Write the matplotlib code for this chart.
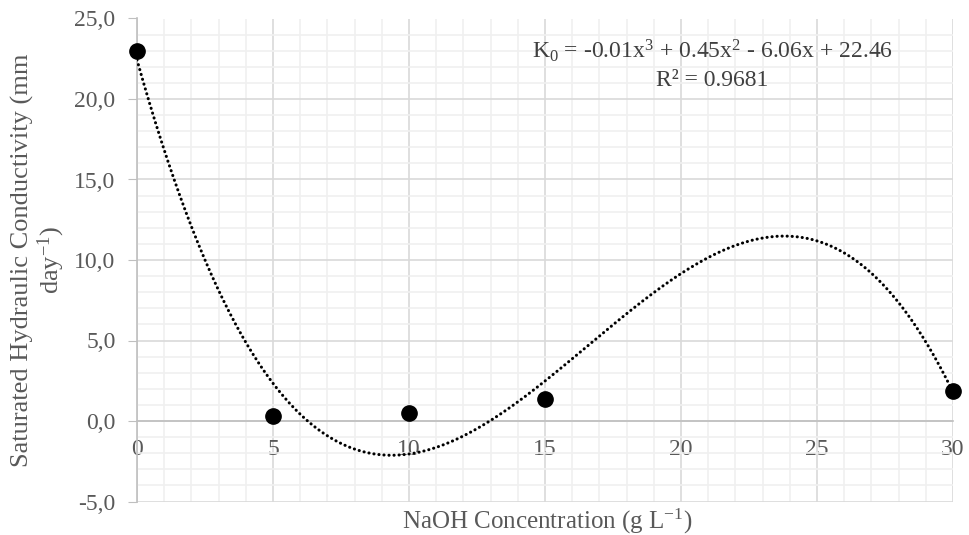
import numpy as np
import matplotlib
matplotlib.use("Agg")
import matplotlib.pyplot as plt
from matplotlib.ticker import MultipleLocator, FuncFormatter

# data
naoh = [0, 5, 10, 15, 30]
k0 = [23.0, 0.3, 0.5, 1.35, 1.85]
eq_text = "K$_0$ = -0.01x$^3$ + 0.45x$^2$ - 6.06x + 22.46"
r2_text = "R² = 0.9681"

plt.rcParams['font.family'] = ['Liberation Serif', 'DejaVu Serif']
plt.rcParams['mathtext.fontset'] = 'custom'
plt.rcParams['mathtext.rm'] = 'Liberation Serif'
plt.rcParams['mathtext.it'] = 'Liberation Serif'

grey = '#595959'

fig = plt.figure(figsize=(9.7, 5.35), dpi=100)
ax = fig.add_axes([137/970, 1 - 501.5/535, (953 - 137)/970, (501.5 - 18.5)/535])

# cubic trendline
coef = np.polyfit(naoh, k0, 3)
xs = np.linspace(0, 30, 400)
ax.plot(xs, np.polyval(coef, xs), color='black', lw=2.2,
        linestyle=(0, (0.05, 1.6)), dash_capstyle='round', zorder=3)

ax.plot(naoh, k0, 'o', color='black', markersize=11, zorder=4, clip_on=False)

ax.set_xlim(0, 30)
ax.set_ylim(-5, 25)
ax.xaxis.set_major_locator(MultipleLocator(5))
ax.xaxis.set_minor_locator(MultipleLocator(1))
ax.yaxis.set_major_locator(MultipleLocator(5))
ax.yaxis.set_minor_locator(MultipleLocator(1))
ax.yaxis.set_major_formatter(FuncFormatter(lambda v, p: f"{v:.1f}".replace('.', ',')))

ax.grid(which='major', color='#D9D9D9', lw=1.2, zorder=0)
ax.grid(which='minor', color='#F0F0F0', lw=1.2, zorder=0)
ax.set_axisbelow(True)

for s in ['top', 'right']:
    ax.spines[s].set_visible(False)
ax.spines['left'].set_color('#BFBFBF')
ax.spines['bottom'].set_color('#BFBFBF')
ax.spines['bottom'].set_position(('data', 0))
ax.spines['left'].set_linewidth(1.2)
ax.spines['bottom'].set_linewidth(1.2)

ax.tick_params(axis='y', which='major', length=6.5, color='#BFBFBF', labelcolor=grey,
               labelsize=17, pad=9)
ax.tick_params(axis='x', which='major', length=0, labelcolor=grey, labelsize=17, pad=13)
ax.tick_params(which='minor', length=0)

fig.text(547/970, 1 - 521/535, "NaOH Concentration (g L$^{-1}$)", ha='center', va='center',
         color=grey, fontsize=18)
fig.text(39/970, 1 - 260/535, "Saturated Hydraulic Conductivity (mm\nday$^{-1}$)",
         ha='center', va='center', rotation=90, color=grey, fontsize=19,
         multialignment='center', linespacing=1.1)

fig.text(712/970, 1 - 58/535, eq_text, ha='center', va='baseline',
         color='#404040', fontsize=17)
fig.text(712/970, 1 - 86/535, r2_text, ha='center', va='baseline',
         color='#404040', fontsize=17)

fig.savefig('out.png', dpi=100)
